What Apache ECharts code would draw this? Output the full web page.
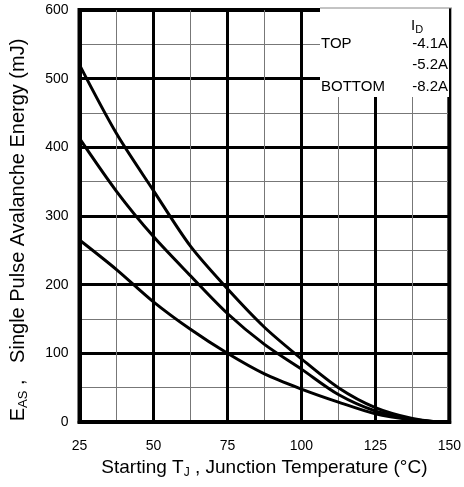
<!DOCTYPE html>
<html>
<head>
<meta charset="utf-8">
<script src="https://cdn.jsdelivr.net/npm/echarts@6/dist/echarts.min.js"></script>
<style>html,body{margin:0;padding:0;background:#fff;}#c{width:464px;height:487px;}</style>
</head>
<body>
<div id="c"></div>
<script>
var temps = [25, 37.5, 50, 62.5, 75, 87.5, 100, 112.5, 125, 137.5, 146];
var eTop = [520, 420, 337, 256, 194, 138, 92, 50, 21, 5, 0];
var eMid = [413, 336, 270, 213, 158, 113, 77, 40, 16, 4, 0];
var eBot = [265, 222, 175, 135, 100, 70, 48, 29, 12, 3, 0];
var legendNames = ['TOP', '', 'BOTTOM'];
var legendCurrents = ['-4.1A', '-5.2A', '-8.2A'];

function pairs(ys) { return temps.map(function (t, i) { return [t, ys[i]]; }); }

var chart = echarts.init(document.getElementById('c'));
var font = '"Liberation Sans", Arial, sans-serif';
var lineStyle = { color: '#000', width: 3 };

var legendGraphics = [
  { type: 'rect', shape: { x: 320, y: 5, width: 129, height: 92 }, style: { fill: '#fff' }, z: 100 },
  { type: 'line', shape: { x1: 320, y1: 8, x2: 452, y2: 8 }, style: { stroke: '#888', lineWidth: 1 }, z: 101 },
  { type: 'text', x: 411, y: 16, style: { text: '{a|I}{s|D}', rich: { a: { fontSize: 15, fontFamily: font, fill: '#000' }, s: { fontSize: 11, fontFamily: font, fill: '#000', verticalAlign: 'bottom', padding: [8, 0, 0, 0] } } }, z: 102 }
];
var rowY = [44, 65, 87];
for (var i = 0; i < 3; i++) {
  if (legendNames[i]) legendGraphics.push({ type: 'text', x: 321, y: rowY[i], style: { text: legendNames[i], font: '15px ' + font, fill: '#000', verticalAlign: 'middle' }, z: 102 });
  legendGraphics.push({ type: 'text', x: 448, y: rowY[i], style: { text: legendCurrents[i], font: '15px ' + font, fill: '#000', align: 'right', verticalAlign: 'middle' }, z: 102 });
}

chart.setOption({
  animation: false,
  grid: { left: 78, right: 12, top: 10, bottom: 65, show: true, borderColor: '#000', borderWidth: 4, backgroundColor: '#fff' },
  xAxis: {
    type: 'value', min: 25, max: 150, interval: 25,
    name: '{a|Starting T}{s|J}{a| , Junction Temperature (°C)}',
    nameLocation: 'middle', nameGap: 33,
    nameTextStyle: { rich: { a: { fontSize: 19, fontFamily: font, color: '#000' }, s: { fontSize: 12, fontFamily: font, color: '#000', verticalAlign: 'bottom', padding: [10, 0, 0, 0] } } },
    axisLine: { lineStyle: { color: '#000', width: 4 } },
    axisTick: { show: false },
    axisLabel: { color: '#000', fontSize: 14, fontFamily: font, margin: 17 },
    splitLine: { lineStyle: { color: '#000', width: 3 } },
    minorTick: { show: false, splitNumber: 2 },
    minorSplitLine: { show: true, lineStyle: { color: '#777', width: 1 } }
  },
  yAxis: {
    type: 'value', min: 0, max: 600, interval: 100,
    name: '{a|E}{s|AS}{a| ,   Single Pulse Avalanche Energy (mJ)}',
    nameLocation: 'middle', nameGap: 50,
    nameTextStyle: { padding: [0, 28, 0, 0], rich: { a: { fontSize: 20, fontFamily: font, color: '#000' }, s: { fontSize: 13, fontFamily: font, color: '#000', verticalAlign: 'bottom', padding: [10, 0, 0, 0] } } },
    axisLine: { lineStyle: { color: '#000', width: 4 } },
    axisTick: { show: false },
    axisLabel: { color: '#000', fontSize: 14, fontFamily: font, margin: 11 },
    splitLine: { lineStyle: { color: '#000', width: 3 } },
    minorTick: { show: false, splitNumber: 2 },
    minorSplitLine: { show: true, lineStyle: { color: '#777', width: 1 } }
  },
  series: [
    { type: 'line', data: pairs(eTop), smooth: 0.3, showSymbol: false, lineStyle: lineStyle },
    { type: 'line', data: pairs(eMid), smooth: 0.3, showSymbol: false, lineStyle: lineStyle },
    { type: 'line', data: pairs(eBot), smooth: 0.3, showSymbol: false, lineStyle: lineStyle }
  ],
  graphic: legendGraphics
});
</script>
</body>
</html>
